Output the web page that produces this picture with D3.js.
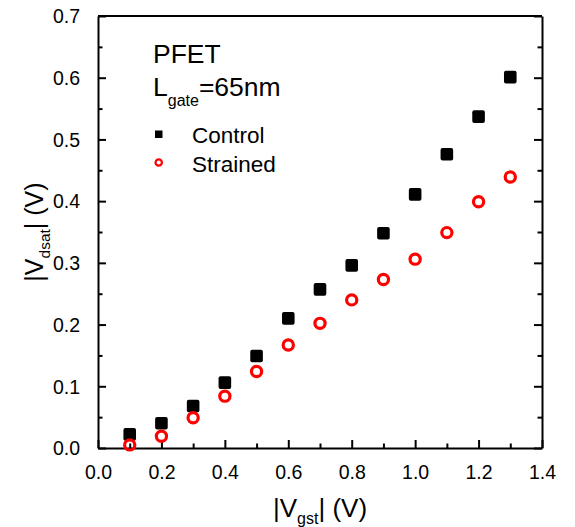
<!DOCTYPE html>
<html>
<head>
<meta charset="utf-8">
<script src="https://cdn.jsdelivr.net/npm/d3@7"></script>
<style>
  body { margin: 0; background: #fff; }
  text { font-family: Arial, "Liberation Sans", sans-serif; fill: #000; }
</style>
</head>
<body>
<div id="chart"></div>
<script>
// data
var vgst = [0.1, 0.2, 0.3, 0.4, 0.5, 0.6, 0.7, 0.8, 0.9, 1.0, 1.1, 1.2, 1.3];
var control = [0.022, 0.040, 0.068, 0.106, 0.149, 0.210, 0.257, 0.296, 0.348, 0.411, 0.476, 0.537, 0.601];
var strained = [0.005, 0.019, 0.049, 0.084, 0.124, 0.167, 0.202, 0.240, 0.273, 0.306, 0.349, 0.399, 0.439];
var xTicks = [0.0, 0.2, 0.4, 0.6, 0.8, 1.0, 1.2, 1.4];
var yTicks = [0.0, 0.1, 0.2, 0.3, 0.4, 0.5, 0.6, 0.7];

var W = 575, H = 527;
var margin = {top: 16, right: 33, bottom: 79, left: 98},
    width = W - margin.left - margin.right,
    height = H - margin.top - margin.bottom;

var svg = d3.select("#chart")
  .append("svg")
    .attr("width", W)
    .attr("height", H)
  .append("g")
    .attr("transform", "translate(" + margin.left + "," + margin.top + ")");

var x = d3.scaleLinear().domain([0, 1.4]).range([0, width]);
var y = d3.scaleLinear().domain([0, 0.7]).range([height, 0]);

// minor ticks
var xMinor = d3.range(1, 14, 2).map(function(d){ return d / 10; });
var yMinor = d3.range(1, 14, 2).map(function(d){ return d / 20; });

// bottom axis, ticks pointing in
var xAxis = svg.append("g")
  .attr("transform", "translate(0," + height + ")")
  .call(d3.axisBottom(x).tickValues(xTicks).tickSizeInner(-8).tickSizeOuter(0)
    .tickPadding(17).tickFormat(d3.format(".1f")));
svg.append("g")
  .attr("transform", "translate(0," + height + ")")
  .call(d3.axisBottom(x).tickValues(xMinor).tickSizeInner(-4.5).tickSizeOuter(0).tickFormat(""))
  .call(function(g){ g.select(".domain").remove(); });

// left axis
var yAxis = svg.append("g")
  .call(d3.axisLeft(y).tickValues(yTicks).tickSizeInner(-8).tickSizeOuter(0)
    .tickPadding(18).tickFormat(d3.format(".1f")));
svg.append("g")
  .call(d3.axisLeft(y).tickValues(yMinor).tickSizeInner(-4.5).tickSizeOuter(0).tickFormat(""))
  .call(function(g){ g.select(".domain").remove(); });

// right axis, ticks only
svg.append("g")
  .attr("transform", "translate(" + width + ",0)")
  .call(d3.axisRight(y).tickValues(yTicks).tickSizeInner(-8).tickSizeOuter(0).tickFormat(""));
svg.append("g")
  .attr("transform", "translate(" + width + ",0)")
  .call(d3.axisRight(y).tickValues(yMinor).tickSizeInner(-4.5).tickSizeOuter(0).tickFormat(""))
  .call(function(g){ g.select(".domain").remove(); });

// top border
svg.append("line")
  .attr("x1", 0).attr("x2", width).attr("y1", 0).attr("y2", 0)
  .attr("stroke", "#000").attr("stroke-width", 2);

svg.selectAll(".domain, .tick line").attr("stroke", "#000").attr("stroke-width", 2);
svg.selectAll(".tick text").style("font-size", "19.5px").attr("fill", "#000");
yAxis.selectAll(".tick text").attr("dy", "0.35em");

// points
svg.selectAll(".ctrl")
  .data(vgst)
  .enter()
  .append("rect")
    .attr("class", "ctrl")
    .attr("x", function(d){ return x(d) - 6.3; })
    .attr("y", function(d, i){ return y(control[i]) - 6.3; })
    .attr("width", 12.6)
    .attr("height", 12.6)
    .attr("rx", 2)
    .attr("fill", "#000");

svg.selectAll(".str")
  .data(vgst)
  .enter()
  .append("circle")
    .attr("class", "str")
    .attr("cx", function(d){ return x(d); })
    .attr("cy", function(d, i){ return y(strained[i]); })
    .attr("r", 5.1)
    .attr("fill", "none")
    .attr("stroke", "#ff0000")
    .attr("stroke-width", 3.2);

// legend / annotation
var lg = svg.append("g").attr("transform", "translate(" + (153 - margin.left) + "," + (-margin.top) + ")");
lg.append("text").attr("x", 0).attr("y", 63).style("font-size", "26.5px").text("PFET");
var lt = lg.append("text").attr("x", 0).attr("y", 96).style("font-size", "26.5px");
lt.append("tspan").text("L");
lt.append("tspan").attr("dy", 10).style("font-size", "16px").text("gate");
lt.append("tspan").attr("dy", -10).text("=65nm");

lg.append("rect").attr("x", 2).attr("y", 130.5).attr("width", 7.5).attr("height", 7.5).attr("fill", "#000");
lg.append("text").attr("x", 39).attr("y", 143).style("font-size", "22.5px").text("Control");
lg.append("circle").attr("cx", 5.7).attr("cy", 162.5).attr("r", 3.2).attr("fill", "none")
  .attr("stroke", "#ff0000").attr("stroke-width", 2.2);
lg.append("text").attr("x", 39).attr("y", 171.5).style("font-size", "22.5px").text("Strained");

// axis titles
var xt = svg.append("text")
  .attr("x", width / 2)
  .attr("y", height + 69)
  .style("text-anchor", "middle")
  .style("font-size", "26px");
xt.append("tspan").text("|V");
xt.append("tspan").attr("dy", 7).style("font-size", "16px").text("gst");
xt.append("tspan").attr("dy", -7).text("| (V)");

var yt = svg.append("text")
  .attr("transform", "translate(" + (43 - margin.left) + "," + (height / 2) + ") rotate(-90)")
  .style("text-anchor", "middle")
  .style("font-size", "25px");
yt.append("tspan").text("|V");
yt.append("tspan").attr("dy", 7).style("font-size", "15.5px").text("dsat");
yt.append("tspan").attr("dy", -7).text("| (V)");
</script>
</body>
</html>
